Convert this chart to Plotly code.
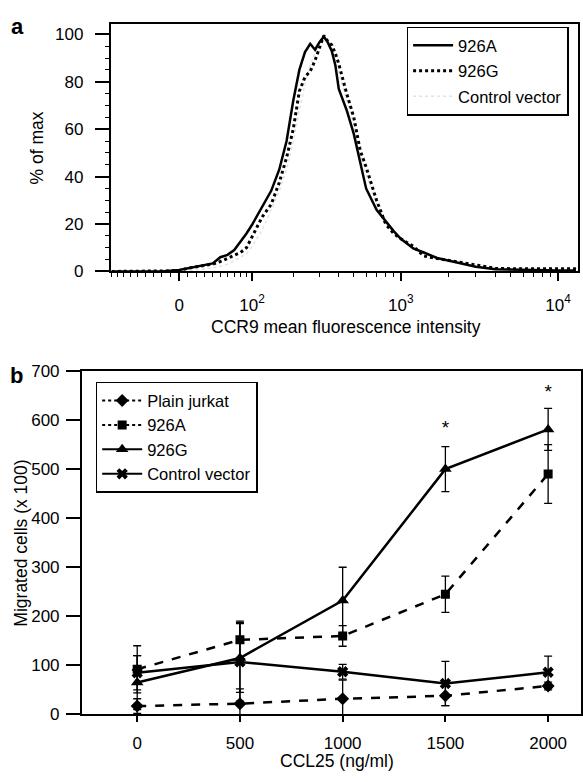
import numpy as np
import plotly.graph_objects as go

# ---- panel a: CCR9 histogram overlay ----
# intensity values (logicle-like display), % of max read off the overlay
intensity = [-90, -50, -20, 0, 10, 20, 30, 40, 50, 60, 70, 80, 90, 100,
             120, 140, 160, 180, 200, 220, 240, 260, 280, 300, 320, 340, 360, 380, 400,
             450, 500, 550, 600, 700, 800, 900, 1000,
             1200, 1400, 1700, 2000, 2500, 3000, 4000, 6000, 10000, 13000]
pct_926A = [0, 0, 0, 0.6, 1.4, 2.1, 2.8, 3.4, 6.0, 7.0, 9.0, 12.5, 16, 19.7,
            27, 34, 43, 55, 72, 85, 92.5, 96, 93.5, 96.8, 99, 96.5, 93, 87, 77,
            68, 58, 46, 35, 26, 21, 17, 13.8,
            9.7, 8, 5.7, 4.6, 3.2, 2, 0.9, 0.6, 0.4, 0.4]
pct_926G = [0, 0, 0, 0.3, 1.4, 2.0, 2.6, 3.1, 4.2, 5.6, 6.6, 8, 10, 14.5,
            23, 28.3, 37.5, 48, 60, 76, 82, 84.4, 89, 94.5, 99.5, 97, 95.5, 92, 87.5,
            75, 65, 51, 44, 30, 20, 16, 13.8,
            10.6, 6.5, 5.5, 4.7, 3.6, 2.4, 1.3, 1.1, 1.1, 1.1]
pct_control = [0, 0, 0, 0, 0.3, 0.6, 1, 1.5, 2.2, 3, 4.5, 6, 7.5, 10.5,
               17.5, 26, 34, 43, 55, 68, 79, 87, 92, 97, 99, 97, 94, 89, 84,
               72, 62, 49, 41, 29, 20.5, 16.5, 13.8,
               10, 7.5, 5.5, 4.6, 3.4, 2.2, 1, 0.5, 0.3, 0.3]

hist_ticks = [0, 100, 1000, 10000]
hist_ticktext = ["0", "10<sup>2</sup>", "10<sup>3</sup>", "10<sup>4</sup>"]
hist_minor = ([-v for v in range(10, 100, 10)] + list(range(10, 100, 10))
              + list(range(200, 1000, 100)) + list(range(2000, 10000, 1000)))

# ---- panel b: migration vs CCL25 ----
ccl25 = [0, 500, 1000, 1500, 2000]
jurkat = [17, 22, 32, 38, 58]
jurkat_err = [15, 30, 38, 20, 8]
a926 = [92, 152, 160, 245, 490]
a926_err = [48, 38, 21, 37, 60]
g926 = [65, 115, 232, 500, 581]
g926_err = [55, 70, 68, 46, 43]
ctrl = [85, 107, 87, 63, 86]
ctrl_err = [35, 80, 15, 45, 33]
star_x = [1500, 2000]
star_y = [582, 654]

W, H = 583, 782
FONT = "Arial, Liberation Sans, sans-serif"


def logicle(v):
    # simple arcsinh display transform, linear around 0 and log above ~100
    return np.arcsinh(np.asarray(v, dtype=float) / 78.0)


fig = go.Figure()

hist = [
    ("Control vector", pct_control, dict(color="#e2e2e2", width=1.5, dash="dot"), 3),
    ("926G", pct_926G, dict(color="black", width=3, dash="dot"), 2),
    ("926A", pct_926A, dict(color="black", width=2.5), 1),
]
for name, pct, line, rank in hist:
    fig.add_trace(go.Scatter(x=logicle(intensity), y=pct, mode="lines", name=name,
                             line=line, legendrank=rank, legendgroup=name,
                             xaxis="x", yaxis="y", legend="legend"))

series = [
    ("Plain jurkat", jurkat, jurkat_err, "diamond", 10, "dash", "dot"),
    ("926A", a926, a926_err, "square", 9, "dash", "dot"),
    ("926G", g926, g926_err, "triangle-up", 11, "solid", "solid"),
    ("Control vector", ctrl, ctrl_err, "x", 10, "solid", "solid"),
]
for name, yv, err, sym, size, dash, leg_dash in series:
    fig.add_trace(go.Scatter(
        x=ccl25, y=yv, mode="lines+markers", name=name, showlegend=False,
        line=dict(color="black", width=2.5, dash=dash),
        marker=dict(symbol=sym, size=size, color="black"),
        error_y=dict(type="data", array=err, color="black", thickness=1.3, width=4),
        xaxis="x2", yaxis="y2"))
for i, (name, yv, err, sym, size, dash, leg_dash) in enumerate(series):
    fig.add_trace(go.Scatter(
        x=[None], y=[None], mode="lines+markers", name=name, legend="legend2",
        legendgroup=f"b{i}",
        line=dict(color="black", width=2, dash=leg_dash),
        marker=dict(symbol=sym, size=size, color="black"),
        xaxis="x2", yaxis="y2"))

fig.add_trace(go.Scatter(x=star_x, y=star_y, mode="text", text=["*", "*"],
                         textfont=dict(size=19, color="black", family=FONT),
                         showlegend=False, xaxis="x2", yaxis="y2"))

axis_common = dict(showline=True, linecolor="black", linewidth=1.5, mirror=True,
                   showgrid=False, zeroline=False, ticks="outside", tickcolor="black",
                   tickfont=dict(size=17, color="black", family=FONT))

fig.update_layout(
    width=W, height=H, margin=dict(l=0, r=0, t=0, b=0),
    paper_bgcolor="white", plot_bgcolor="white",
    font=dict(family=FONT, color="black", size=17),
    xaxis=dict(axis_common, domain=[111 / W, 580 / W], anchor="y",
               range=[float(logicle(-92)), float(logicle(13400))],
               tickmode="array", tickvals=logicle(hist_ticks).tolist(), ticktext=hist_ticktext,
               ticklen=8, tickwidth=1.5, ticklabelstandoff=9,
               minor=dict(tickmode="array", tickvals=logicle(hist_minor).tolist(),
                          ticks="outside", ticklen=4, tickcolor="black", tickwidth=1)),
    yaxis=dict(axis_common, domain=[1 - 269 / H, 1 - 15 / H], anchor="x",
               range=[0, 104.5], tickvals=[0, 20, 40, 60, 80, 100],
               ticklen=14, tickwidth=1.5, ticklabelstandoff=8,
               minor=dict(dtick=5, ticks="outside", ticklen=4, tickcolor="black", tickwidth=1)),
    xaxis2=dict(axis_common, domain=[82 / W, 1.0], anchor="y2",
                range=[-270, 2160], tickvals=ccl25, ticklen=6, tickwidth=1.5,
                ticklabelstandoff=6),
    yaxis2=dict(axis_common, domain=[1 - 723 / H, 1 - 371 / H], anchor="x2",
                range=[0, 700], dtick=100, ticklen=14, tickwidth=1.5, ticklabelstandoff=3),
    legend=dict(x=408 / W, y=1 - 18 / H, xanchor="left", yanchor="top",
                bordercolor="black", borderwidth=1.5, bgcolor="white",
                font=dict(size=16.5, family=FONT), itemwidth=40, tracegroupgap=1),
    legend2=dict(x=96 / W, y=1 - 382 / H, xanchor="left", yanchor="top",
                 bordercolor="black", borderwidth=1.5, bgcolor="white",
                 font=dict(size=16.5, family=FONT), itemwidth=40, tracegroupgap=0),
    annotations=[
        dict(text="<b>a</b>", x=18 / W, y=1 - 18 / H),
        dict(text="<b>b</b>", x=17 / W, y=1 - 376 / H),
        dict(text="% of max", x=37 / W, y=1 - 142 / H, textangle=-90),
        dict(text="CCR9 mean fluorescence intensity", x=347 / W, y=1 - 326 / H),
        dict(text="Migrated cells (x 100)", x=21 / W, y=1 - 547 / H, textangle=-90),
        dict(text="CCL25 (ng/ml)", x=338 / W, y=1 - 771 / H),
    ],
)
fig.update_annotations(xref="paper", yref="paper", showarrow=False,
                       xanchor="center", yanchor="middle", font=dict(size=17.5))
fig.layout.annotations[0].font.size = 22
fig.layout.annotations[1].font.size = 22

# drop the default page margin so the figure sits at the window's top-left corner
fig.write_html("out.html", config={"displayModeBar": False},
               post_script="document.body.style.margin='0';")
